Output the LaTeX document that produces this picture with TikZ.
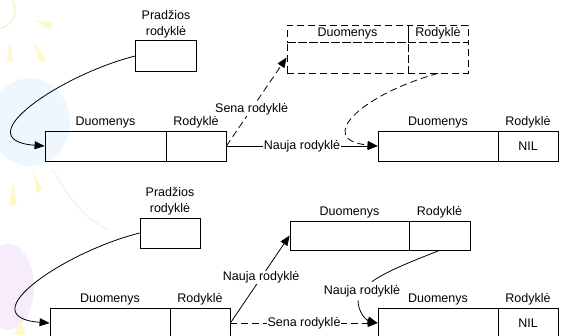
\documentclass[tikz,border=0pt]{standalone}
\usepackage{fontspec}
\setmainfont{Liberation Sans}
\usepackage{tikz}
\usetikzlibrary{arrows.meta,positioning}
\definecolor{sunyel}{RGB}{252,250,205}
\definecolor{sunring}{RGB}{232,244,208}
\definecolor{blob}{RGB}{238,247,253}
\definecolor{balloon}{RGB}{246,236,252}
\tikzset{
  >=Stealth,
  cell/.style={rectangle,draw,line width=0.8pt,inner sep=0pt,minimum height=30pt},
  oldcell/.style={cell,dashed,dash pattern=on 7pt off 4pt},
  ptr/.style={-{Triangle[length=10pt,width=8pt]}, line width=0.8pt},
  oldptr/.style={ptr,dash pattern=on 7pt off 4pt},
  lbl/.style={inner sep=1pt}
}
\begin{document}
\begin{tikzpicture}[x=1pt,y=-1pt,font=\fontsize{12.5}{16}\selectfont,label distance=1pt]
    \useasboundingbox (0,0) rectangle (561,335);

    % faint background
    \fill[blob] (30,122) ellipse (40 and 44);
    \fill[balloon] (8,287) ellipse (26 and 43);
    \draw[sunring, line width=1.2pt] (-4,10) circle (19);
    \fill[sunyel] (35,20) -- (53,22) -- (50,30) -- cycle;
    \fill[sunyel] (32,40) -- (47,60) -- (40,62) -- cycle;
    \fill[sunyel] (10,40) -- (13,62) -- (6,62) -- cycle;
    \fill[sunyel] (32,170) -- (43,190) -- (37,193) -- cycle;
    \fill[sunyel] (13,182) -- (17,205) -- (9,205) -- cycle;
    \fill[sunyel] (20,320) -- (26,335) -- (14,335) -- cycle;
    \draw[blob, line width=2pt] (53,170) .. controls (70,200) and (85,220) .. (110,230);

    % upper list: before
    \node[cell, minimum width=61pt, minimum height=31pt,
          label={[lbl,align=center]above:Pradžios\\rodyklė}] (start1) at (166,56) {};
    \node[cell, minimum width=121pt, label={[lbl]above:Duomenys}] (d1) at (105.5,146) {};
    \node[cell, minimum width=60pt, label={[lbl]above:Rodyklė}] (p1) at (196,146) {};
    \node[cell, minimum width=120pt, label={[lbl]above:Duomenys}] (d2) at (438,146) {};
    \node[cell, minimum width=60pt, label={[lbl]above:Rodyklė}] (p2) at (528,146) {NIL};

    % removed element
    \node[oldcell, minimum width=121pt, minimum height=17pt] (odh) at (347.5,33.5) {Duomenys};
    \node[oldcell, minimum width=60pt, minimum height=17pt] (oph) at (438,33.5) {Rodyklė};
    \node[oldcell, minimum width=121pt, minimum height=31pt] (od) at (347.5,57.5) {};
    \node[oldcell, minimum width=60pt, minimum height=31pt] (op) at (438,57.5) {};

    \draw[ptr] (start1.west) .. controls (60,75) and (-35,140) .. (d1.west);
    \draw[oldptr] (p1.east) -- node[lbl,fill=white,pos=0.42] {Sena rodyklė} (od.west);
    \draw[ptr] (p1.east) -- node[lbl,fill=white] {Nauja rodyklė} (d2.west);
    \draw[oldptr] (op.south) .. controls (360,95) and (315,140) .. (d2.west);

    % lower list: after
    \node[cell, minimum width=60pt,
          label={[lbl,align=center]above:Pradžios\\rodyklė}] (start2) at (170,233) {};
    \node[cell, minimum width=120pt, label={[lbl]above:Duomenys}] (d3) at (110,323) {};
    \node[cell, minimum width=60pt, label={[lbl]above:Rodyklė}] (p3) at (200,323) {};
    \node[cell, minimum width=119pt, minimum height=29pt, label={[lbl]above:Duomenys}] (d4) at (349.5,235.5) {};
    \node[cell, minimum width=61pt, minimum height=29pt, label={[lbl]above:Rodyklė}] (p4) at (439.5,235.5) {};
    \node[cell, minimum width=120pt, label={[lbl]above:Duomenys}] (d5) at (438,323) {};
    \node[cell, minimum width=60pt, label={[lbl]above:Rodyklė}] (p5) at (528,323) {NIL};
    \node (nr) at (362,291) {Nauja rodyklė};

    \draw[ptr] (start2.west) .. controls (64,252) and (-31,317) .. (d3.west);
    \draw[ptr] (p3.east) -- node[lbl,fill=white,pos=0.52] {Nauja rodyklė} (d4.west);
    \draw[oldptr] (p3.east) -- node[lbl,fill=white] {Sena rodyklė} (d5.west);
    \draw[line width=0.8pt] (p4.south) .. controls (410,262) and (385,272) .. ([xshift=10pt]nr.north);
    \draw[ptr] ([xshift=-4pt]nr.south) .. controls (358,312) and (366,320) .. (d5.west);

\end{tikzpicture}
\end{document}
